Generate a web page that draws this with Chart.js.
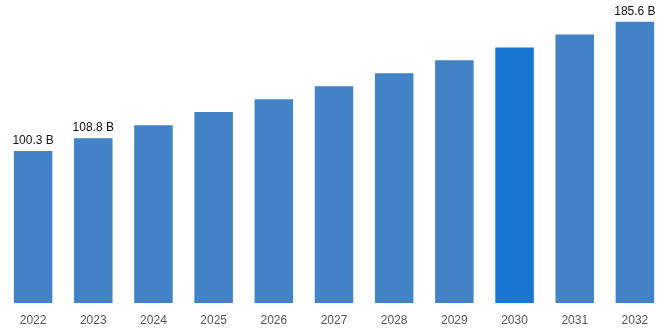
<!DOCTYPE html>
<html>
<head>
<meta charset="utf-8">
<script src="https://cdn.jsdelivr.net/npm/chart.js@4/dist/chart.umd.min.js"></script>
<style>
  html, body { margin: 0; padding: 0; background: #fff; }
  #wrap { width: 668px; height: 334px; }
</style>
</head>
<body>
<div id="wrap"><canvas id="market-canvas"></canvas></div>
<script>
// Market size by year (USD billions)
const years = ['2022', '2023', '2024', '2025', '2026', '2027', '2028', '2029', '2030', '2031', '2032'];
const marketSize = [100.3, 108.8, 117.4, 126.0, 134.5, 143.1, 151.6, 160.2, 168.7, 177.2, 185.6];
const labelledYears = ['2022', '2023', '2032'];
const highlightYear = '2030';

const barColors = years.map(y => y === highlightYear ? '#1976d2' : '#4282c6');

// Value labels above selected bars
const valueLabels = {
    id: 'valueLabels',
    afterDatasetsDraw(chart) {
        const ctx = chart.ctx;
        const meta = chart.getDatasetMeta(0);
        ctx.save();
        ctx.font = '12px "Liberation Sans", Arial, sans-serif';
        ctx.fillStyle = '#111';
        ctx.textAlign = 'center';
        ctx.textBaseline = 'bottom';
        meta.data.forEach((bar, i) => {
            if (!labelledYears.includes(years[i])) return;
            ctx.fillText(marketSize[i].toFixed(1) + ' B', bar.x, bar.y - 4);
        });
        ctx.restore();
    }
};

new Chart(document.getElementById('market-canvas'), {
    type: 'bar',
    data: {
        labels: years,
        datasets: [{
            data: marketSize,
            backgroundColor: barColors,
            borderWidth: 0,
            barPercentage: 0.8,
            categoryPercentage: 0.8
        }]
    },
    options: {
        responsive: true,
        maintainAspectRatio: false,
        animation: false,
        layout: { padding: { left: 3, right: 3, top: 0, bottom: 0 } },
        plugins: {
            legend: { display: false },
            tooltip: { enabled: false }
        },
        scales: {
            x: {
                grid: { display: false, drawTicks: false },
                border: { display: false },
                ticks: {
                    color: '#555',
                    padding: 10,
                    font: { size: 12, family: '"Liberation Sans", Arial, sans-serif' }
                },
                afterFit(scale) { scale.height = 31; }
            },
            y: {
                display: false,
                min: 0,
                max: 200
            }
        }
    },
    plugins: [valueLabels]
});
</script>
</body>
</html>
